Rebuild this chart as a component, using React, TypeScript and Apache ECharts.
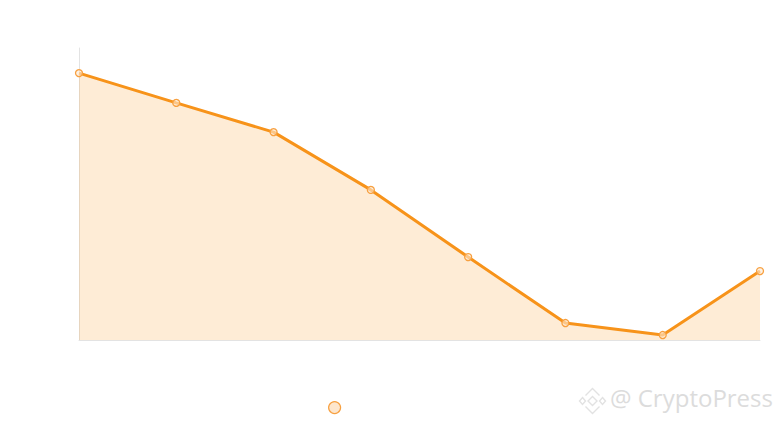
import React, { useEffect, useRef } from "react";
import * as echarts from "echarts";

const categories = ["1", "2", "3", "4", "5", "6", "7", "8"];
const values = [91.4, 81.2, 71.2, 51.4, 28.4, 5.8, 1.7, 23.6];
const seriesName = "Series";

export default function App() {
  const ref = useRef<HTMLDivElement>(null);
  useEffect(() => {
    if (!ref.current) return;
    const chart = echarts.init(ref.current, null, { renderer: "svg" });
    const wm = { fill: "none", stroke: "#e2e2e2", lineWidth: 1.4 };
    chart.setOption({
      animation: false,
      grid: { left: 79, right: 22, top: 48, bottom: 85 },
      legend: {
        left: 323,
        top: 396,
        icon: "circle",
        itemWidth: 12,
        itemHeight: 12,
        formatter: () => "",
        data: [
          {
            name: seriesName,
            itemStyle: { color: "#fde6cd", borderColor: "#f7a040", borderWidth: 1.2 },
          },
        ],
      },
      xAxis: {
        type: "category",
        data: categories,
        boundaryGap: false,
        axisLine: { show: true, lineStyle: { color: "#e3e3e3" } },
        axisTick: { show: false },
        axisLabel: { show: false },
        splitLine: { show: false },
      },
      yAxis: {
        type: "value",
        min: 0,
        max: 100,
        axisLine: { show: true, lineStyle: { color: "#e3e3e3" } },
        axisTick: { show: false },
        axisLabel: { show: false },
        splitLine: { show: false },
      },
      series: [
        {
          name: seriesName,
          type: "line",
          data: values,
          symbol: "circle",
          symbolSize: 7,
          itemStyle: { color: "rgba(253,232,209,0.6)", borderColor: "#f7a040", borderWidth: 1.3 },
          lineStyle: { color: "#f7931a", width: 3 },
          areaStyle: { color: "rgba(247,147,26,0.26)" },
        },
      ],
      graphic: [
        {
          type: "group",
          left: 577,
          top: 386,
          children: [
            { type: "polyline", shape: { points: [[7, 8], [14, 1], [21, 8]] }, style: wm },
            { type: "polyline", shape: { points: [[7, 19], [14, 26], [21, 19]] }, style: wm },
            { type: "polygon", shape: { points: [[4, 10], [7, 13.5], [4, 17], [1, 13.5]] }, style: wm },
            { type: "polygon", shape: { points: [[24, 10], [27, 13.5], [24, 17], [21, 13.5]] }, style: wm },
            { type: "polygon", shape: { points: [[14, 9], [18.5, 13.5], [14, 18], [9.5, 13.5]] }, style: wm },
          ],
        },
        {
          type: "text",
          left: 610,
          top: 385,
          style: {
            text: "@ CryptoPress",
            fill: "#dcdcdc",
            font: '24px "Open Sans", sans-serif',
          },
        },
      ],
    });
    return () => chart.dispose();
  }, []);
  return <div ref={ref} style={{ width: 782, height: 425, position: "absolute", left: 0, top: 0 }} />;
}
